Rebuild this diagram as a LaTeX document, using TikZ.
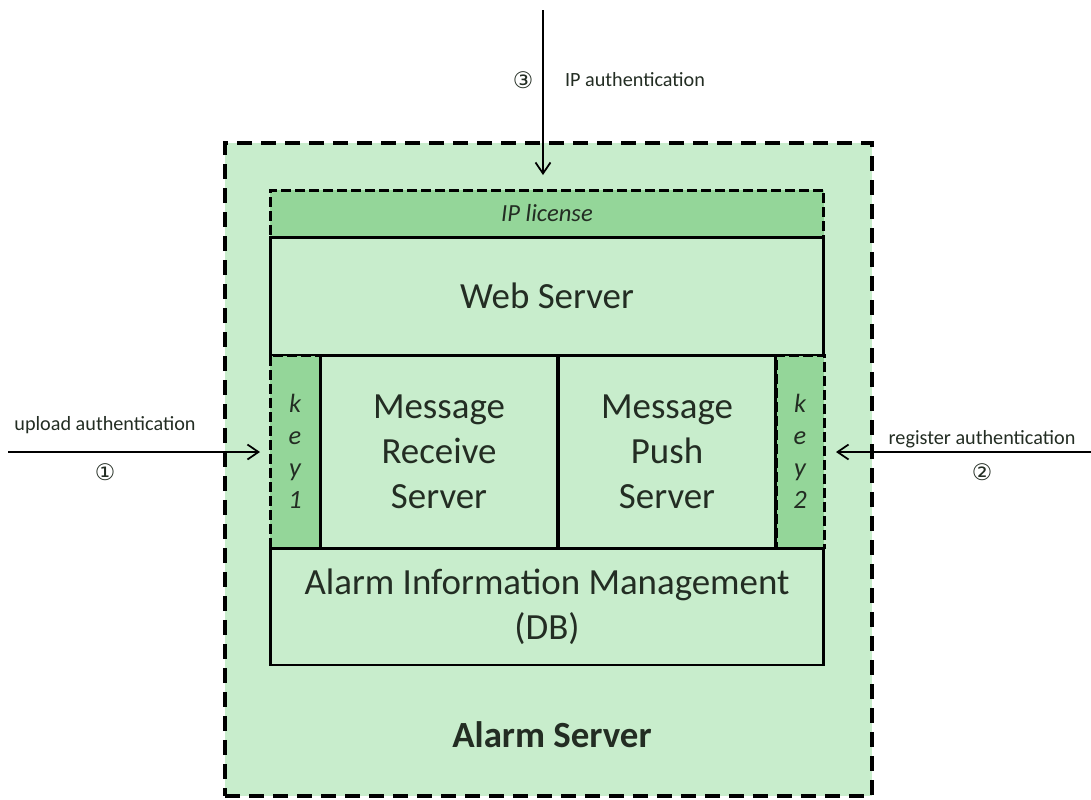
\documentclass[tikz,border=0pt]{standalone}
\usepackage{fontspec}
\setmainfont{Carlito}
\newfontfamily\circfont{DejaVu Sans}
\usepackage{xcolor}
\usetikzlibrary{arrows.meta, positioning}
\definecolor{servercolor}{RGB}{200, 237, 204}
\definecolor{keycolor}{RGB}{148, 214, 153}
\definecolor{labelcolor}{RGB}{35, 45, 35}

\begin{document}
\begin{tikzpicture}[x=0.02cm, y=-0.02cm,
    part/.style={draw, line width=1.7pt, fill=servercolor, inner sep=0pt, outer sep=0pt,
        font=\fontsize{21}{25.6}\selectfont, text=labelcolor, align=center},
    guard/.style={draw, line width=1.7pt, dash pattern=on 0.2cm off 0.08cm, fill=keycolor,
        inner sep=0pt, outer sep=0pt, text=labelcolor, align=center},
    conn/.style={line width=1pt, -{Straight Barb[length=2.2mm, width=3mm]}},
    note/.style={font=\fontsize{11.5}{14}\selectfont, text=labelcolor},
    num/.style={font=\circfont\fontsize{13}{15}\selectfont, text=labelcolor}]
    \useasboundingbox (0, 0) rectangle (1091, 799);

    % Alarm Server (outer frame)
    \node[draw, fill=servercolor, line width=2.7pt, dash pattern=on 0.3cm off 0.18cm,
        inner sep=0pt, outer sep=0pt, minimum width=12.94cm, minimum height=13.06cm] (alarm) at (548.5, 469.5) {};
    \node[font=\bfseries\fontsize{21}{26}\selectfont, text=labelcolor] (alarmlabel) at (552, 735) {Alarm Server};

    % IP license and keys
    \node[guard, minimum width=11.08cm, minimum height=0.94cm, font=\itshape\fontsize{14}{17}\selectfont] (iplic) at (547, 213.5) {IP license};
    \node[guard, minimum width=1.0cm, minimum height=3.86cm, font=\itshape\fontsize{15}{18.2}\selectfont] (key1) at (295, 451.5) {k\\e\\y\\1};
    \node[guard, minimum width=0.96cm, minimum height=3.86cm, font=\itshape\fontsize{15}{18.2}\selectfont] (key2) at (800, 451.5) {k\\e\\y\\2};

    % Web Server
    \node[part, minimum width=11.08cm, minimum height=2.36cm] (web) at (547, 296) {Web Server};

    % Message servers
    \node[part, minimum width=4.76cm, minimum height=3.86cm] (receive) at (439, 451.5) {Message\\Receive\\Server};
    \node[part, minimum width=4.36cm, minimum height=3.86cm] (push) at (667, 451.5) {Message\\Push\\Server};

    % Database
    \node[part, minimum width=11.08cm, minimum height=2.34cm] (db) at (547, 606.5) {Alarm Information Management\\(DB)};

    % IP authentication
    \coordinate (ipsrc) at (543, 10);
    \draw[conn, shorten >=0.3cm] (ipsrc) -- (ipsrc |- iplic.north);
    \node[num] (ipnum) at (523, 80) {③};
    \node[note] (iplbl) at (635, 80) {IP authentication};

    % upload authentication
    \coordinate (uploadsrc) at (8, 452);
    \draw[conn, shorten >=0.2cm] (uploadsrc) -- (uploadsrc -| key1.west);
    \node[note] (uploadlbl) at (105, 425) {upload authentication};
    \node[num] (uploadnum) at (105, 472) {①};

    % register authentication
    \coordinate (registersrc) at (1091, 452);
    \draw[conn, shorten >=0.24cm] (registersrc) -- (registersrc -| key2.east);
    \node[note] (registerlbl) at (982, 439) {register authentication};
    \node[num] (registernum) at (982, 472) {②};
\end{tikzpicture}
\end{document}
